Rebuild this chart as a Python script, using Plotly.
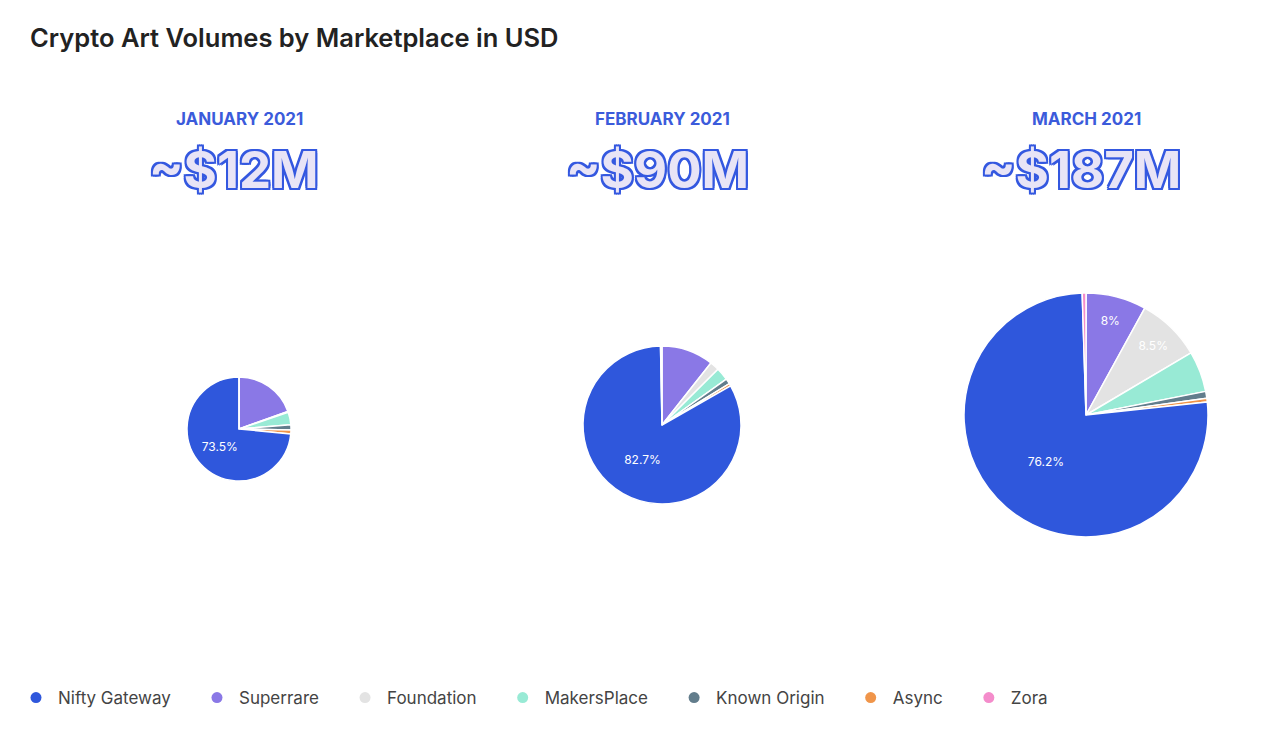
import plotly.graph_objects as go

W, H = 1273, 730
OFF = 8  # page offset of the figure inside the browser window

MARKETS = ["Superrare", "Foundation", "MakersPlace", "Known Origin", "Async", "Nifty Gateway", "Zora"]
LEGEND_ORDER = ["Nifty Gateway", "Superrare", "Foundation", "MakersPlace", "Known Origin", "Async", "Zora"]
COLORS = {
    "Nifty Gateway": "#2f57dc",
    "Superrare": "#8a78e6",
    "Foundation": "#e3e3e3",
    "MakersPlace": "#98ead5",
    "Known Origin": "#627d8c",
    "Async": "#f0954a",
    "Zora": "#f48ccb",
}

MONTHS = ["JANUARY 2021", "FEBRUARY 2021", "MARCH 2021"]
TOTALS = ["~$12M", "~$90M", "~$187M"]
JAN = [19.5, 0.3, 3.9, 1.6, 1.2, 73.5, 0.0]
FEB = [10.6, 1.9, 2.6, 1.1, 0.5, 82.7, 0.3]
MAR = [8.0, 8.5, 5.4, 0.9, 0.5, 76.2, 0.5]
LABELED = [["", "", "", "", "", "73.5%", ""],
           ["", "", "", "", "", "82.7%", ""],
           ["8%", "8.5%", "", "", "", "76.2%", ""]]

# pixel centres and diameters of the pies
CENTERS = [(239, 429, 104), (662, 425, 158), (1086, 415, 244)]


def px(x):
    return (x - OFF) / W


def py(y):
    return 1 - (y - OFF) / H


fig = go.Figure()

for vals, labels, (cx, cy, d) in zip([JAN, FEB, MAR], LABELED, CENTERS):
    r = d / 2
    fig.add_trace(go.Pie(
        labels=MARKETS, values=vals, text=labels,
        texttemplate="%{text}", textposition="inside",
        insidetextfont=dict(color="white", size=12),
        sort=False, direction="clockwise", rotation=0,
        marker=dict(colors=[COLORS[m] for m in MARKETS], line=dict(color="white", width=1.5)),
        domain=dict(x=[px(cx - r), px(cx + r)], y=[py(cy + r), py(cy - r)]),
        showlegend=False, hoverinfo="label+percent",
    ))

# dummy traces for a circle-marker legend
for m in LEGEND_ORDER:
    fig.add_trace(go.Scatter(x=[None], y=[None], mode="markers", name=m + "\u00a0" * 4,
                             marker=dict(color=COLORS[m], size=11, symbol="circle")))

outline = ("-2px -2px 0 #3458e0, 2px -2px 0 #3458e0, -2px 2px 0 #3458e0, 2px 2px 0 #3458e0, "
           "0 2px 0 #3458e0, 0 -2px 0 #3458e0, 2px 0 0 #3458e0, -2px 0 0 #3458e0")
for month, total, (cx, cy, d) in zip(MONTHS, TOTALS, CENTERS):
    fig.add_annotation(text=month, x=px(cx), y=py(119), xref="paper", yref="paper",
                       xanchor="center", yanchor="middle", showarrow=False,
                       font=dict(family="Inter", size=17, color="#3b5bdb", weight="bold"))
    fig.add_annotation(text=total, x=px(cx - 5), y=py(170), xref="paper", yref="paper",
                       xanchor="center", yanchor="middle", showarrow=False,
                       font=dict(family="Inter", size=51, color="#e8e4f6", weight="bold", shadow=outline))

fig.add_annotation(text="Crypto Art Volumes by Marketplace in USD", x=px(28), y=py(38),
                   xref="paper", yref="paper", xanchor="left", yanchor="middle", showarrow=False,
                   font=dict(family="Inter", size=25.5, color="#222", weight=600))

fig.update_layout(
    width=W, height=H,
    margin=dict(l=0, r=0, t=0, b=0, autoexpand=False),
    paper_bgcolor="white", plot_bgcolor="white",
    xaxis=dict(visible=False), yaxis=dict(visible=False),
    legend=dict(orientation="h", x=px(14), y=py(698), yanchor="middle", xanchor="left",
                font=dict(family="Inter", size=17, color="#444"), itemwidth=34,
                traceorder="normal", tracegroupgap=0),
    font=dict(family="Inter"),
)

fig.write_html("out.html")
